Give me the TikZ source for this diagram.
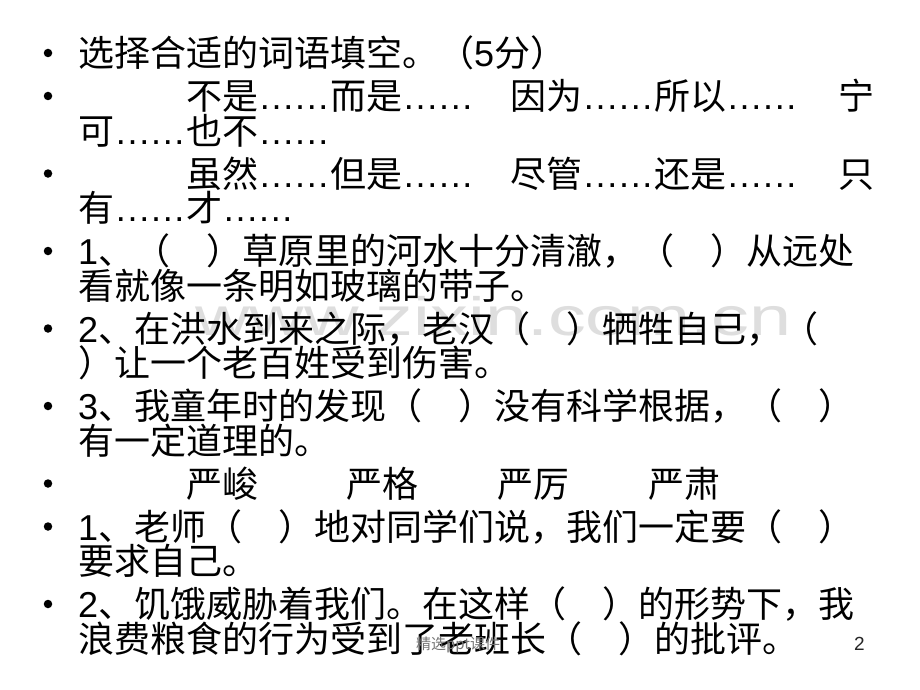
\documentclass[tikz,border=0pt]{standalone}
\usepackage{fontspec}
\setmainfont{Liberation Sans}
\newfontfamily\cjk{Noto Sans CJK SC}
\newcommand\dd{{\rmfamily\makebox[2em][s]{\hfill.\hfill.\hfill.\hfill.\hfill.\hfill.\hfill}}}
\newcommand\dg[1]{{\rmfamily #1}}
\begin{document}
\begin{tikzpicture}[x=1pt,y=-1pt,
  txt/.style={anchor=base west, inner sep=0, font=\cjk\fontsize{36}{40}\selectfont},
  bul/.style={circle, fill=black, inner sep=0, minimum size=8.5},
  wm/.style={anchor=base west, inner sep=0, text=black!13, font=\fontsize{54}{60}\selectfont, xscale=1.4},
  foot/.style={inner sep=0, text=black!55, font=\cjk\fontsize{15}{18}\selectfont},
  pnum/.style={inner sep=0, text=black!85, font=\fontsize{19}{22}\selectfont}]
\fill[white] (0,0) rectangle (920,690);
\useasboundingbox (0,0) rectangle (920,690);
% watermark
\node[wm] (wm) at (195,335) {www.zixin.com.cn};
% bullets
\foreach \n/\y in {1/53,2/96,3/173.5,4/251,5/328.5,6/406,7/483.5,8/526.5,9/604}
  \node[bul] (b\n) at (48,\y) {};
% lines
\node[txt] (l1) at (78,66.5) {选择合适的词语填空。（\dg{5}分）};
\node[txt] (l2a) at (186,109.5) {不是\dd 而是\dd};
\node[txt] (l2b) at (510,109.5) {因为\dd 所以\dd};
\node[txt] (l2c) at (838,109.5) {宁};
\node[txt] (l3) at (78,144) {可\dd 也不\dd};
\node[txt] (l4a) at (186,187) {虽然\dd 但是\dd};
\node[txt] (l4b) at (510,187) {尽管\dd 还是\dd};
\node[txt] (l4c) at (838,187) {只};
\node[txt] (l5) at (78,221.5) {有\dd 才\dd};
\node[txt] (l6) at (78,264.5) {\dg{1}、（　）草原里的河水十分清澈，（　）从远处};
\node[txt] (l7) at (78,299) {看就像一条明如玻璃的带子。};
\node[txt] (l8) at (78,342) {\dg{2}、在洪水到来之际，老汉（　）牺牲自己，（};
\node[txt] (l9) at (78,376.5) {）让一个老百姓受到伤害。};
\node[txt] (l10) at (78,419.5) {\dg{3}、我童年时的发现（　）没有科学根据，（　）};
\node[txt] (l11) at (78,454) {有一定道理的。};
\node[txt] (l12a) at (186,497) {严峻};
\node[txt] (l12b) at (346,497) {严格};
\node[txt] (l12c) at (497,497) {严厉};
\node[txt] (l12d) at (648,497) {严肃};
\node[txt] (l13) at (78,540) {\dg{1}、老师（　）地对同学们说，我们一定要（　）};
\node[txt] (l14) at (78,574.5) {要求自己。};
\node[txt] (l15) at (78,617.5) {\dg{2}、饥饿威胁着我们。在这样（　）的形势下，我};
\node[txt] (l16) at (78,652) {浪费粮食的行为受到了老班长（　）的批评。};
% footer
\node[foot] (ft) at (458,645) {精选ppt课件};
\node[pnum] (pg) at (859.5,644) {2};
\end{tikzpicture}
\end{document}
